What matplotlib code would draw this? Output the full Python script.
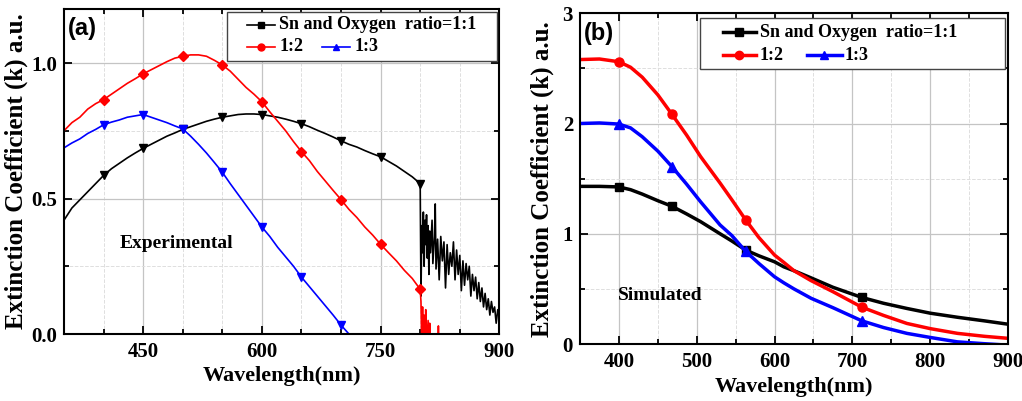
"""
Extinction coefficient k vs wavelength for SnOx films:
(a) experimental, (b) simulated, for Sn:O ratio 1:1, 1:2, 1:3.
"""
import numpy as np
import matplotlib
matplotlib.use("Agg")
import matplotlib.pyplot as plt
from matplotlib.lines import Line2D
from matplotlib.patches import Rectangle

# -- Data: (a) experimental ---------------------------------------------------
wl_exp = [350, 360, 370, 380, 390, 400, 410, 420, 430, 440,
          450, 460, 470, 480, 490, 500, 510, 520, 530, 540,
          550, 560, 570, 580, 590, 600, 610, 620, 630, 640,
          650, 660, 670, 680, 690, 700, 710, 720, 730, 740,
          750, 760, 770, 780, 790, 800]
k_exp_11 = [0.42, 0.465, 0.495, 0.525, 0.555, 0.585, 0.61, 0.63, 0.65, 0.668,
            0.685, 0.70, 0.715, 0.73, 0.742, 0.755, 0.765, 0.775, 0.785, 0.793,
            0.80, 0.805, 0.81, 0.812, 0.812, 0.81, 0.805, 0.80, 0.793, 0.785,
            0.776, 0.765, 0.752, 0.74, 0.727, 0.713, 0.70, 0.69, 0.677, 0.665,
            0.654, 0.637, 0.62, 0.60, 0.58, 0.555]
k_exp_12 = [0.75, 0.78, 0.80, 0.83, 0.85, 0.865, 0.885, 0.905, 0.925, 0.942,
            0.96, 0.975, 0.99, 1.005, 1.018, 1.025, 1.03, 1.03, 1.025, 1.01,
            0.993, 0.97, 0.94, 0.91, 0.885, 0.857, 0.82, 0.785, 0.75, 0.71,
            0.673, 0.64, 0.60, 0.565, 0.53, 0.496, 0.46, 0.43, 0.395, 0.365,
            0.331, 0.30, 0.27, 0.235, 0.205, 0.165]
k_exp_13 = [0.687, 0.705, 0.72, 0.74, 0.755, 0.772, 0.782, 0.79, 0.80, 0.805,
            0.81, 0.80, 0.79, 0.78, 0.768, 0.757, 0.73, 0.70, 0.668, 0.633,
            0.597, 0.555, 0.515, 0.475, 0.435, 0.395, 0.36, 0.32, 0.285, 0.25,
            0.21, 0.175, 0.14, 0.105, 0.07, 0.033, 0.0, -0.03, -0.06, -0.09,
            -0.12, -0.15, -0.18, -0.21, -0.24, -0.27]

# noisy tails past the detector change at 800 nm
wl_tail_11 = [801, 802, 803, 804, 805, 806, 807, 808, 809, 810, 811, 812, 813,
              815, 816, 818, 819, 820, 822, 824, 826, 828, 830, 832, 834, 836,
              838, 840, 842, 844, 846, 848, 850, 852, 854, 856, 858, 860, 862,
              864, 866, 868, 870, 872, 874, 876, 878, 880, 882, 884, 886, 888,
              890, 892, 894, 896, 898, 900]
k_tail_11 = [0.14, 0.40, 0.30, 0.45, 0.25, 0.42, 0.33, 0.44, 0.28, 0.40, 0.22,
             0.38, 0.30, 0.42, 0.26, 0.36, 0.48, 0.24, 0.35, 0.20, 0.36, 0.27,
             0.34, 0.17, 0.33, 0.22, 0.30, 0.25, 0.34, 0.20, 0.31, 0.22, 0.29,
             0.16, 0.27, 0.18, 0.26, 0.20, 0.25, 0.14, 0.22, 0.16, 0.21, 0.13,
             0.19, 0.12, 0.17, 0.10, 0.15, 0.09, 0.13, 0.07, 0.12, 0.08, 0.10,
             0.04, 0.09, 0.06]
wl_tail_12 = [801, 802, 803, 804, 805, 806, 807, 808, 810, 811, 812, 813,
              822, 823, 824]
k_tail_12 = [0.12, -0.05, 0.10, -0.05, 0.07, -0.05, 0.09, -0.05, 0.05, -0.05,
             0.04, -0.05, -0.05, 0.03, -0.05]

mark_exp = [400, 450, 500, 550, 600, 650, 700, 750, 800]

# -- Data: (b) simulated ------------------------------------------------------
wl_sim = [350, 375, 400, 415, 430, 450, 468, 487, 505, 530, 545, 563, 580,
          600, 612, 625, 647, 675, 712, 740, 770, 800, 835, 870, 900]
k_sim_11 = [1.43, 1.43, 1.425, 1.40, 1.36, 1.30, 1.25, 1.18, 1.11, 1.00,
            0.935, 0.852, 0.80, 0.746, 0.70, 0.665, 0.60, 0.515, 0.423, 0.37,
            0.323, 0.28, 0.243, 0.21, 0.18]
k_sim_12 = [2.58, 2.585, 2.56, 2.51, 2.42, 2.26, 2.085, 1.895, 1.70, 1.46,
            1.31, 1.125, 0.965, 0.807, 0.74, 0.665, 0.575, 0.475, 0.335, 0.26,
            0.187, 0.14, 0.097, 0.07, 0.052]
k_sim_13 = [2.00, 2.005, 1.995, 1.96, 1.88, 1.75, 1.61, 1.45, 1.29, 1.08,
            0.985, 0.84, 0.73, 0.61, 0.555, 0.50, 0.415, 0.33, 0.211, 0.15,
            0.097, 0.06, 0.02, 0.003, -0.01]

mark_sim = [400, 468, 563, 712]

LEGEND_LABELS = ["Sn and Oxygen  ratio=1:1", "1:2", "1:3"]
COLORS = ["black", "#ff0000", "#0000ff"]

# -- Style --------------------------------------------------------------------
plt.rcParams["font.family"] = ["Liberation Serif", "DejaVu Serif"]
plt.rcParams["font.weight"] = "bold"
SERIF = dict(family="Liberation Serif", weight="bold")


def style_axes(ax, xmajor, xminor, ymajor, yminor):
    ax.set_xticks(xmajor)
    ax.set_xticks(xminor, minor=True)
    ax.set_yticks(ymajor)
    ax.set_yticks(yminor, minor=True)
    ax.tick_params(which="both", direction="in", top=True, right=True,
                   width=1.3, labelsize=15)
    ax.tick_params(which="major", length=6)
    ax.tick_params(which="minor", length=3.5)
    ax.tick_params(axis="x", which="major", pad=6)
    ax.tick_params(axis="y", which="major", pad=5)
    for lab in ax.get_xticklabels() + ax.get_yticklabels():
        lab.set_fontweight("bold")
    ax.grid(which="major", color="#c4c4c4", linewidth=0.9)
    ax.grid(which="minor", color="#dedede", linewidth=0.7, linestyle="--")
    ax.set_axisbelow(True)
    for sp in ax.spines.values():
        sp.set_linewidth(1.5)
    ax.set_xlabel("Wavelength(nm)", fontsize=16, **SERIF)
    ax.set_ylabel("Extinction Coefficient (k) a.u.", fontsize=18, **SERIF)


def draw_legend(ax, box, rows, x_line, x_text, markers, lw, ms):
    """Hand-built legend: row 1 = 1:1, row 2 = 1:2 and 1:3 side by side."""
    x0, y0, x1, y1 = box
    ax.add_patch(Rectangle((x0, y0), x1 - x0, y1 - y0, transform=ax.transAxes,
                           facecolor="white", edgecolor="#444444",
                           linewidth=1.0, zorder=5))
    for i in range(3):
        y = rows[i]
        xa, xb = x_line[i]
        ax.add_line(Line2D([xa, xb], [y, y], transform=ax.transAxes,
                           color=COLORS[i], linewidth=lw, zorder=6))
        ax.add_line(Line2D([(xa + xb) / 2], [y], transform=ax.transAxes,
                           color=COLORS[i], marker=markers[i], markersize=ms,
                           zorder=7))
        ax.text(x_text[i], y, LEGEND_LABELS[i], transform=ax.transAxes,
                ha="left", va="center", fontsize=13, zorder=7, **SERIF)


def idx(xs, marks):
    return [xs.index(m) for m in marks]


fig = plt.figure(figsize=(10.22, 4.01), dpi=100)
ax1 = fig.add_axes([0.0626, 0.167, 0.426, 0.811])
ax2 = fig.add_axes([0.5675, 0.142, 0.4188, 0.825])

# -- (a) Experimental ---------------------------------------------------------
ax1.plot(wl_exp + wl_tail_11, k_exp_11 + k_tail_11, color=COLORS[0],
         linewidth=1.2, marker="v", markersize=6,
         markevery=idx(wl_exp, mark_exp))
ax1.plot(wl_exp + wl_tail_12, k_exp_12 + k_tail_12, color=COLORS[1],
         linewidth=1.2, marker="D", markersize=5,
         markevery=idx(wl_exp, mark_exp))
ax1.plot(wl_exp, k_exp_13, color=COLORS[2], linewidth=1.2, marker="v",
         markersize=6, markevery=idx(wl_exp, mark_exp[:-2]))
ax1.set_xlim(350, 900)
ax1.set_ylim(0, 1.2)
style_axes(ax1, [450, 600, 750, 900], [400, 500, 550, 650, 700, 800, 850],
           [0.0, 0.5, 1.0], [0.25, 0.75])
ax1.yaxis.set_major_formatter(matplotlib.ticker.FormatStrFormatter("%.1f"))
ax1.xaxis.set_label_coords(0.5, -0.098)
ax1.yaxis.set_label_coords(-0.083, 0.5)
ax1.text(0.01, 0.975, "(a)", transform=ax1.transAxes, ha="left", va="top",
         fontsize=17, family="Liberation Sans", weight="bold")
ax1.text(492, 0.335, "Experimental", ha="center", va="center", fontsize=14,
         **SERIF)
draw_legend(ax1, (0.375, 0.84, 0.995, 0.991), [0.951, 0.883, 0.883],
            [(0.421, 0.485), (0.421, 0.484), (0.593, 0.657)],
            [0.494, 0.494, 0.667], ["s", "o", "^"], 1.2, 5)

# -- (b) Simulated ------------------------------------------------------------
ax2.plot(wl_sim, k_sim_11, color=COLORS[0], linewidth=2.5, marker="s",
         markersize=6, markevery=idx(wl_sim, mark_sim))
ax2.plot(wl_sim, k_sim_12, color=COLORS[1], linewidth=2.5, marker="o",
         markersize=6.5, markevery=idx(wl_sim, mark_sim))
ax2.plot(wl_sim, k_sim_13, color=COLORS[2], linewidth=2.5, marker="^",
         markersize=7, markevery=idx(wl_sim, mark_sim))
ax2.set_xlim(350, 900)
ax2.set_ylim(0, 3)
style_axes(ax2, [400, 500, 600, 700, 800, 900],
           [350, 450, 550, 650, 750, 850], [0, 1, 2, 3], [0.5, 1.5, 2.5])
ax2.xaxis.set_label_coords(0.5, -0.10)
ax2.yaxis.set_label_coords(-0.061, 0.5)
ax2.text(0.008, 0.975, "(b)", transform=ax2.transAxes, ha="left", va="top",
         fontsize=17, family="Liberation Sans", weight="bold")
ax2.text(453, 0.44, "Simulated", ha="center", va="center", fontsize=14,
         **SERIF)
draw_legend(ax2, (0.28, 0.831, 0.993, 0.985), [0.943, 0.873, 0.873],
            [(0.334, 0.411), (0.334, 0.411), (0.53, 0.612)],
            [0.42, 0.42, 0.619], ["s", "o", "^"], 2.5, 6)

fig.savefig("out.png", dpi=100)
